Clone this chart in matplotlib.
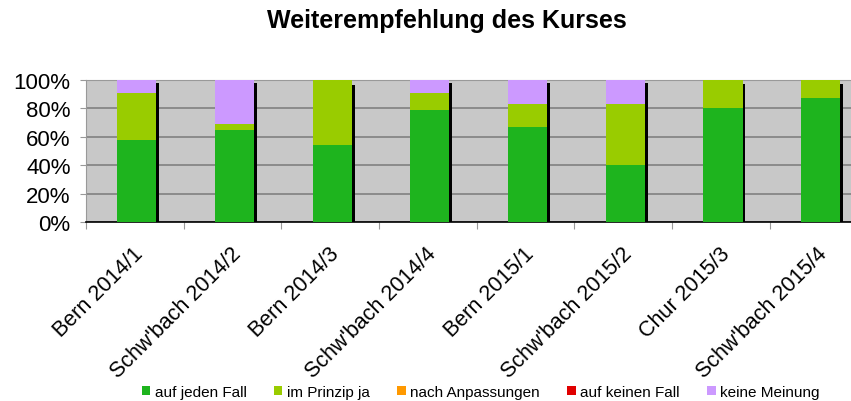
import matplotlib.pyplot as plt
import numpy as np

plt.rcParams['font.family'] = ['Liberation Sans', 'DejaVu Sans']

# --- Data ---
kurse = ["Bern 2014/1", "Schw'bach 2014/2", "Bern 2014/3", "Schw'bach 2014/4",
         "Bern 2015/1", "Schw'bach 2015/2", "Chur 2015/3", "Schw'bach 2015/4"]
auf_jeden_fall = [58, 65, 54, 79, 67, 40, 80, 87]
im_prinzip_ja = [33, 4, 46, 12, 16, 43, 20, 13]
nach_anpassungen = [0, 0, 0, 0, 0, 0, 0, 0]
auf_keinen_fall = [0, 0, 0, 0, 0, 0, 0, 0]
keine_meinung = [9, 31, 0, 9, 17, 17, 0, 0]
schatten = [97.5, 97.5, 96.5, 97.5, 97.5, 97.5, 97, 97]

serien = [("auf jeden Fall", auf_jeden_fall, "#1eb41e"),
          ("im Prinzip ja", im_prinzip_ja, "#99cc00"),
          ("nach Anpassungen", nach_anpassungen, "#ff9900"),
          ("auf keinen Fall", auf_keinen_fall, "#e00000"),
          ("keine Meinung", keine_meinung, "#cc99ff")]

# --- Plot ---
fig = plt.figure(figsize=(8.51, 4.02), dpi=100)
ax = fig.add_axes([0.101, 0.445, 0.899, 0.354])
ax.set_facecolor("#c8c8c8")

x = np.arange(len(kurse))
breite = 0.40
ax.bar(x + 0.02 + breite / 2 + 0.015, schatten, width=0.03, color="black", zorder=2)
unten = np.zeros(len(kurse))
for name, werte, farbe in serien:
    ax.bar(x + 0.02, werte, width=breite, bottom=unten, color=farbe, label=name, zorder=3)
    unten += np.array(werte)

ax.set_ylim(0, 100)
ax.set_xlim(-0.5, 7.33)
ax.set_yticks(range(0, 101, 20))
ax.set_yticklabels([f"{v}%" for v in range(0, 101, 20)], fontsize=16)
ax.yaxis.grid(True, color="#808080", linewidth=1.2, zorder=1)
ax.set_axisbelow(True)

ax.set_xticks(np.arange(-0.5, 7.5, 1), minor=False)
ax.set_xticklabels([])
ax.set_xticks(x - 0.02, minor=True)
ax.set_xticklabels(kurse, minor=True, rotation=45, ha="right", rotation_mode="anchor", fontsize=15.5)
ax.tick_params(axis="x", which="minor", length=0, pad=15)
ax.tick_params(axis="x", which="major", length=5, color="#999999")
ax.tick_params(axis="y", length=4, color="#999999", pad=7)

for s in ["top", "left", "right"]:
    ax.spines[s].set_color("#999999")
ax.spines["right"].set_visible(False)
ax.spines["bottom"].set_color("black")
ax.spines["bottom"].set_linewidth(1.2)

fig.text(0.525, 0.948, "Weiterempfehlung des Kurses", ha="center", va="center",
         fontsize=18, fontweight="bold")

fig.legend(loc="center", bbox_to_anchor=(0.565, 0.022), ncol=5, frameon=False,
           fontsize=11, handlelength=0.55, handleheight=0.55, handletextpad=0.3,
           columnspacing=1.8)

fig.savefig("out.png", dpi=100)
